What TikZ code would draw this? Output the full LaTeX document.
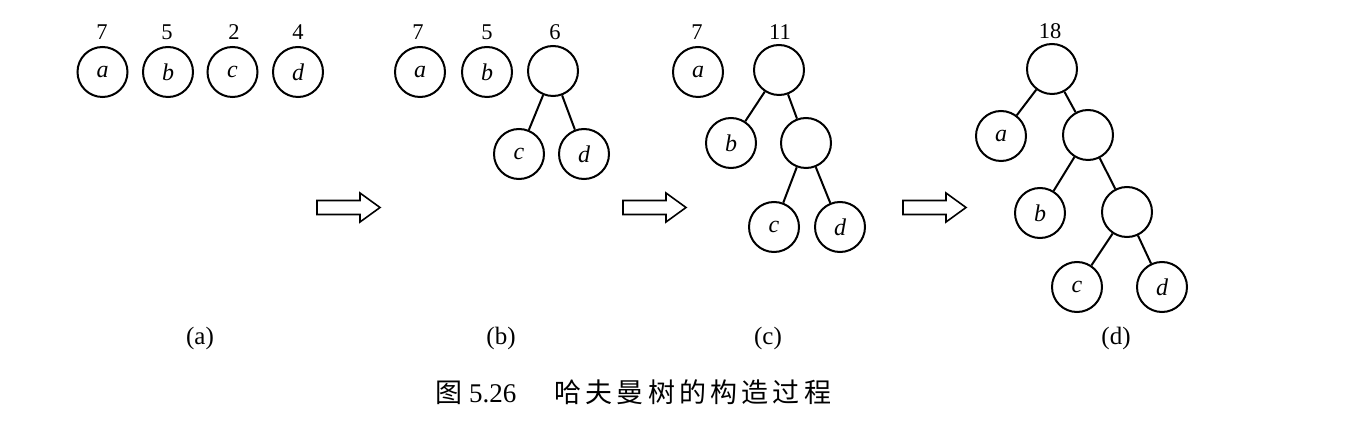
\documentclass[tikz,border=0pt]{standalone}
\usepackage{fontspec}
\setmainfont{Liberation Serif}
\newfontfamily\cjk{Noto Sans CJK SC}
\begin{document}
\begin{tikzpicture}[x=1pt,y=-1pt,
  nd/.style={circle,draw,line width=2pt,minimum size=50pt,inner sep=0pt,font=\fontsize{24}{24}\selectfont\itshape},
  wt/.style={font=\fontsize{22.5}{22.5}\selectfont,inner sep=0pt},
  ed/.style={line width=2pt},
  sub/.style={font=\fontsize{25}{25}\selectfont,inner sep=0pt},
  bigarrow/.pic={\draw[line width=1.6pt,line join=miter] (0,-7) -- (43,-7) -- (43,-14.5) -- (63,0) -- (43,14.5) -- (43,7) -- (0,7) -- cycle;}]
\useasboundingbox (0,0) rectangle (1366,438);
% (a)
\node[nd] (a1) at (102.5,72) {a};
\node[nd] (b1) at (168,72) {b};
\node[nd] (c1) at (232.5,72) {c};
\node[nd] (d1) at (298,72) {d};
\node[wt] (wa1) at (102,32) {7};
\node[wt] (wb1) at (167,32) {5};
\node[wt] (wc1) at (234,32) {2};
\node[wt] (wd1) at (298,32) {4};
\node[sub] (la) at (200,338) {(a)};
\pic at (317,207.5) {bigarrow};
% (b)
\node[nd] (a2) at (420,72) {a};
\node[nd] (b2) at (487,72) {b};
\node[nd] (r2) at (553,71) {};
\node[nd] (c2) at (519,154) {c};
\node[nd] (d2) at (584,154) {d};
\node[wt] (wa2) at (418,32) {7};
\node[wt] (wb2) at (487,32) {5};
\node[wt] (wr2) at (555,32) {6};
\draw[ed] (r2) -- (c2);
\draw[ed] (r2) -- (d2);
\node[sub] (lb) at (501,338) {(b)};
\pic at (623,207.5) {bigarrow};
% (c)
\node[nd] (a3) at (698,72) {a};
\node[nd] (r3) at (779,70) {};
\node[nd] (b3) at (731,143) {b};
\node[nd] (i3) at (806,143) {};
\node[nd] (c3) at (774,227) {c};
\node[nd] (d3) at (840,227) {d};
\node[wt] (wa3) at (697,32) {7};
\node[wt] (wr3) at (780,32) {11};
\draw[ed] (r3) -- (b3);
\draw[ed] (r3) -- (i3);
\draw[ed] (i3) -- (c3);
\draw[ed] (i3) -- (d3);
\node[sub] (lc) at (768,338) {(c)};
\pic at (903,207.5) {bigarrow};
% (d)
\node[nd] (r4) at (1052,69) {};
\node[nd] (a4) at (1001,136) {a};
\node[nd] (i4) at (1088,135) {};
\node[nd] (b4) at (1040,213) {b};
\node[nd] (j4) at (1127,212) {};
\node[nd] (c4) at (1077,287) {c};
\node[nd] (d4) at (1162,287) {d};
\node[wt] (wr4) at (1050,31) {18};
\draw[ed] (r4) -- (a4);
\draw[ed] (r4) -- (i4);
\draw[ed] (i4) -- (b4);
\draw[ed] (i4) -- (j4);
\draw[ed] (j4) -- (c4);
\draw[ed] (j4) -- (d4);
\node[sub] (ld) at (1116,338) {(d)};
% caption
\node[font=\fontsize{27}{27}\selectfont,inner sep=0pt,anchor=west] (cap) at (435,392) {{\cjk 图}\hspace{7pt}5.26\hspace{38pt}{\cjk 哈\hspace{4.2pt}夫\hspace{4.2pt}曼\hspace{4.2pt}树\hspace{4.2pt}的\hspace{4.2pt}构\hspace{4.2pt}造\hspace{4.2pt}过\hspace{4.2pt}程}};
\end{tikzpicture}
\end{document}
